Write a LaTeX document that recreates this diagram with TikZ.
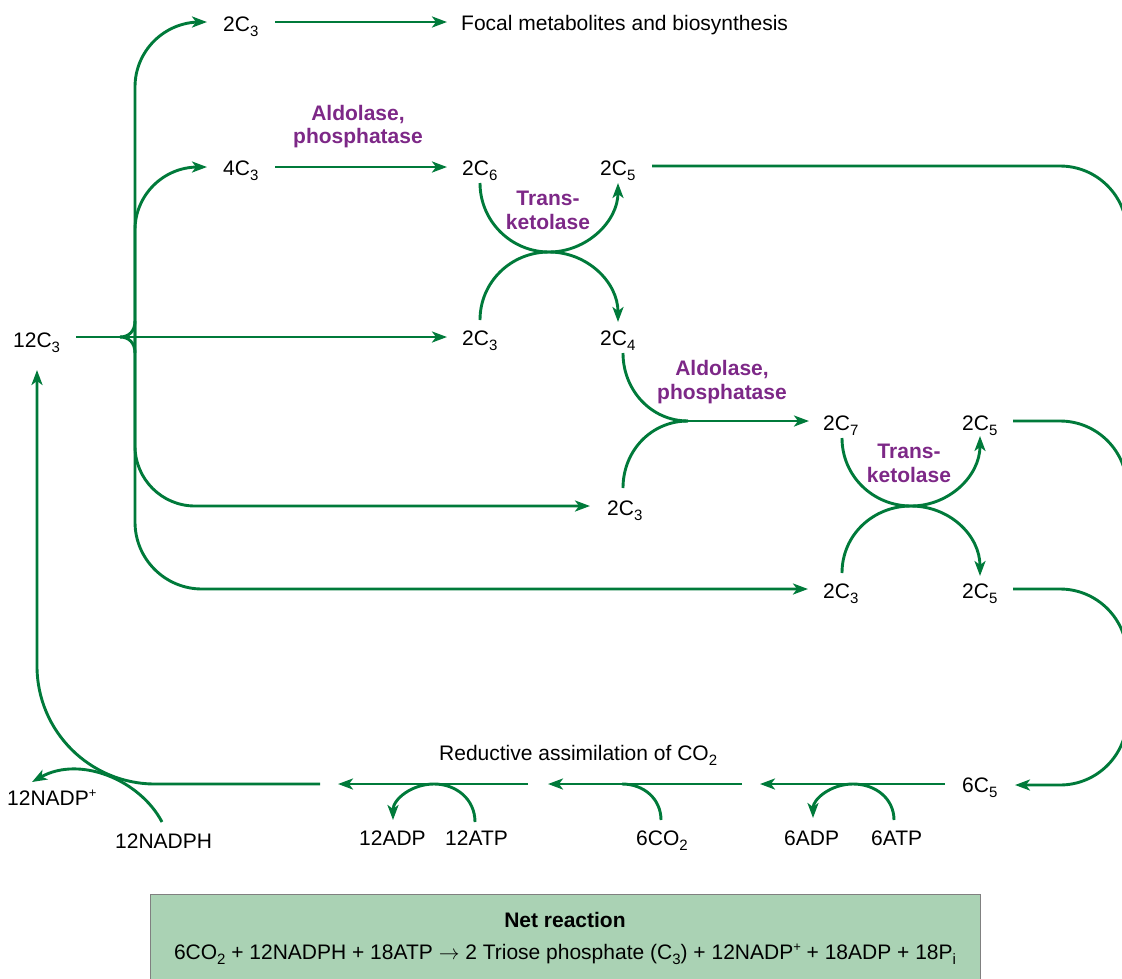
\documentclass[tikz,border=0pt]{standalone}
\usepackage{fontspec}
\setmainfont{Liberation Sans}
\usetikzlibrary{arrows.meta}
\definecolor{pgreen}{RGB}{0,122,58}
\definecolor{ppurple}{RGB}{125,40,135}
\definecolor{boxgreen}{RGB}{170,210,180}
\newcommand\sbs[1]{\raisebox{-5pt}{\fontsize{15}{15}\selectfont #1}}
\newcommand\sps[1]{\raisebox{8pt}{\fontsize{13}{13}\selectfont #1}}
\begin{document}
\begin{tikzpicture}[x=1pt,y=-1pt,
  lab/.style={font=\fontsize{21}{25}\selectfont, inner sep=0pt, anchor=base west},
  enz/.style={font=\fontsize{21}{24}\selectfont\bfseries, text=ppurple, inner sep=0pt, anchor=base},
  ln/.style={draw=pgreen, line width=2.9pt},
  arr/.style={ln, -{Stealth[length=15pt,width=11pt,inset=4pt]}},
]
\useasboundingbox (0,0) rectangle (1122,978);

% ---------- net reaction box ----------
\node[draw=gray, fill=boxgreen, line width=0.8pt, minimum width=830pt, minimum height=92pt,
      anchor=north west, inner sep=0pt] (box) at (150,894) {};
\node[font=\fontsize{21}{25}\selectfont\bfseries, anchor=base, inner sep=0pt] (netT) at (565,927) {Net reaction};
\node[font=\fontsize{21}{25}\selectfont, inner sep=0pt, anchor=base] (netE) at (565,959) {6CO\sbs{2} + 12NADPH + 18ATP $\rightarrow$ 2 Triose phosphate (C\sbs{3}) + 12NADP\sps{+} + 18ADP + 18P\sbs{i}};

% ---------- labels ----------
\node[lab] (c3top) at (223,31) {2C\sbs{3}};
\node[lab] (focal) at (461,30) {Focal metabolites and biosynthesis};
\node[lab] (c3four) at (223,175) {4C\sbs{3}};
\node[enz] (ald1a) at (358,120) {Aldolase,};
\node[enz] (ald1b) at (358,143) {phosphatase};
\node[lab] (c6) at (462,175) {2C\sbs{6}};
\node[lab] (c5a) at (600,175) {2C\sbs{5}};
\node[enz] (tk1a) at (548,205) {Trans-};
\node[enz] (tk1b) at (548,229) {ketolase};
\node[lab] (c12) at (13,347) {12C\sbs{3}};
\node[lab] (c3mid) at (462,345) {2C\sbs{3}};
\node[lab] (c4) at (600,345) {2C\sbs{4}};
\node[enz] (ald2a) at (722,375) {Aldolase,};
\node[enz] (ald2b) at (722,399) {phosphatase};
\node[lab] (c3low) at (607,515) {2C\sbs{3}};
\node[lab] (c7) at (823,430) {2C\sbs{7}};
\node[lab] (c5b) at (962,430) {2C\sbs{5}};
\node[enz] (tk2a) at (909,458) {Trans-};
\node[enz] (tk2b) at (909,482) {ketolase};
\node[lab] (c3bot) at (823,598) {2C\sbs{3}};
\node[lab] (c5c) at (962,598) {2C\sbs{5}};
\node[lab] (c5six) at (962,792) {6C\sbs{5}};
\node[lab] (red) at (439,760) {Reductive assimilation of CO\sbs{2}};
\node[lab] (nadp) at (7,805) {12NADP\sps{+}};
\node[lab] (nadph) at (115,848) {12NADPH};
\node[lab] (adp12) at (359,845) {12ADP};
\node[lab] (atp12) at (445,845) {12ATP};
\node[lab] (co2) at (636,845) {6CO\sbs{2}};
\node[lab] (adp6) at (784,845) {6ADP};
\node[lab] (atp6) at (871,845) {6ATP};

% ---------- connector end points ----------
\coordinate (jn) at (135,337);
\coordinate (c12out) at (76,337);
\coordinate (c3topIn) at (207,22);
\coordinate (c3fourIn) at (207,167);
\coordinate (c3lowIn) at (590,506);
\coordinate (c3botIn) at (808,589);
\coordinate (c6In) at (447,167);
\coordinate (c3midIn) at (447,337);
\coordinate (focalIn) at (447,22);
\coordinate (c7In) at (809,421);
\coordinate (c5aOut) at (652,166);
\coordinate (c5bOut) at (1013,421);
\coordinate (c5cOut) at (1013,589);
\coordinate (c5sixIn) at (1015,785);
\coordinate (c12In) at (37,370);

% ---------- trunk and branches from 12C3 ----------
\draw[arr, rounded corners=65pt] (jn) |- (c3topIn);
\draw[arr, rounded corners=63pt] (jn) |- (c3fourIn);
\draw[arr, rounded corners=60pt] (jn) |- (c3lowIn);
\draw[arr, rounded corners=67pt] (jn) |- (c3botIn);
\draw[arr] (c12out) -- (c3midIn);
\draw[ln] (120,337) .. controls (129,337) and (135,331) .. (135,321);
\draw[ln] (120,337) .. controls (129,337) and (135,343) .. (135,353);

\draw[arr] (275,22) -- (focalIn);
\draw[arr] (275,167) -- (c6In);

% ---------- transketolase 1 ----------
\draw[arr] (480,183) .. controls (480,221) and (511,252) .. (549,252) .. controls (587,252) and (618,221) .. (618,183);
\draw[arr] (480,320) .. controls (480,282) and (511,252) .. (549,252) .. controls (587,252) and (618,282) .. (618,322);

% ---------- aldolase 2 ----------
\draw[ln] (623,353) .. controls (623,390) and (651,421) .. (688,421);
\draw[ln] (623,488) .. controls (623,451) and (651,421) .. (688,421);
\draw[arr] (686,421) -- (c7In);

% ---------- transketolase 2 ----------
\draw[arr] (842,438) .. controls (842,476) and (873,506) .. (911,506) .. controls (949,506) and (980,476) .. (980,436);
\draw[arr] (842,573) .. controls (842,535) and (873,506) .. (911,506) .. controls (949,506) and (980,535) .. (980,576);

% ---------- right return ----------
\draw[arr, rounded corners=67pt] (c5aOut) -- (1127,166) -- (1127,785) -- (c5sixIn);
\draw[ln, rounded corners=67pt] (c5bOut) -- (1127,421) -- (1127,600);
\draw[ln, rounded corners=67pt] (c5cOut) -- (1127,589) -- (1127,700);

% ---------- bottom (reductive) ----------
\draw[arr] (945,784) -- (760,784);
\draw[arr] (894,820) .. controls (894,799) and (876,784) .. (853,784) .. controls (831,784) and (813,799) .. (813,818);
\draw[arr] (742,784) -- (548,784);
\draw[ln] (661,820) .. controls (661,799) and (644,784) .. (622,784);
\draw[arr] (528,784) -- (338,784);
\draw[arr] (475,822) .. controls (475,799) and (456,784) .. (434,784) .. controls (412,784) and (393,799) .. (393,820);
\draw[arr, rounded corners=118pt] (320,784) -| (c12In);
\draw[arr] (162,822) .. controls (140,780) and (80,755) .. (32,782);
\end{tikzpicture}
\end{document}
